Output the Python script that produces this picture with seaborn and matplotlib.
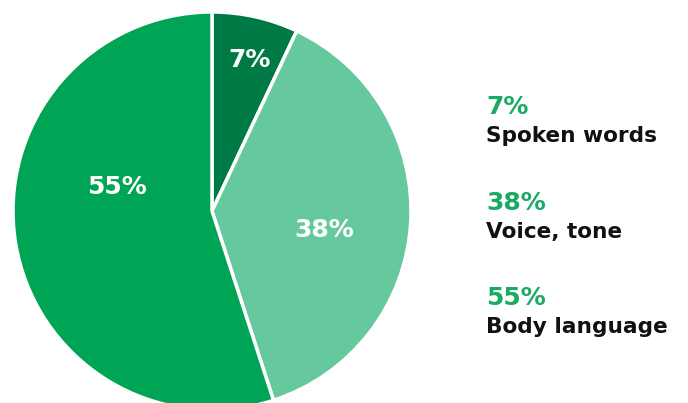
import matplotlib
matplotlib.use("Agg")
import matplotlib.pyplot as plt
import seaborn as sns
import numpy as np

categories = ["Spoken words", "Voice, tone", "Body language"]
values = [7, 38, 55]
colors = ["#007a45", "#66c99d", "#00a455"]
label_radius = [0.78, 0.57, 0.49]
label_angle_shift = [-1.5, -6.0, -23.0]

sns.set_theme(style="white")
plt.rcParams["font.family"] = ["DejaVu Sans"]

fig = plt.figure(figsize=(6.88, 4.03), dpi=100)
ax = fig.add_axes([13 / 688, (403 - 410) / 403, 398 / 688, 398 / 403])
wedges, _ = ax.pie(values, colors=colors, startangle=90, counterclock=False,
                   wedgeprops=dict(edgecolor="white", linewidth=2.5))
ax.set_xlim(-1, 1)
ax.set_ylim(-1, 1)
ax.set_aspect("equal")
ax.axis("off")

for w, v, r, s in zip(wedges, values, label_radius, label_angle_shift):
    ang = np.deg2rad((w.theta1 + w.theta2) / 2 + s)
    ax.text(r * np.cos(ang), r * np.sin(ang), f"{v}%", color="white",
            fontsize=18, fontweight="bold", ha="center", va="center")

green = "#1aaa62"
y_pct = [107, 203, 298]
for v, c, yp in zip(values, categories, y_pct):
    fig.text(486 / 688, 1 - yp / 403, f"{v}%", color=green, fontsize=18,
             fontweight="bold", ha="left", va="center")
    fig.text(486 / 688, 1 - (yp + 29) / 403, c, color="#111111", fontsize=15.6,
             fontweight="bold", ha="left", va="center")

fig.savefig("out.png", dpi=100)
